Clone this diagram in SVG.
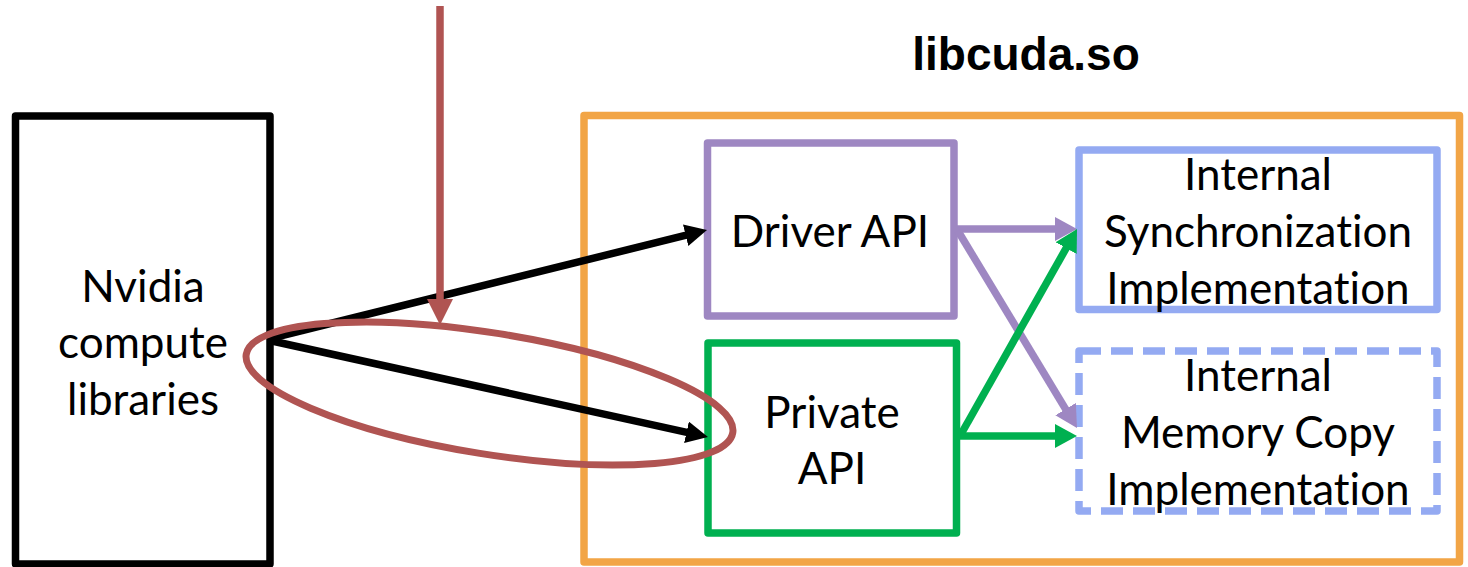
<svg xmlns="http://www.w3.org/2000/svg" width="1468" height="567" viewBox="0 0 1468 567">
  <style>
    .lbl { font-family: Lato, "Open Sans", "Liberation Sans", sans-serif; font-size: 44px; fill: #000; text-anchor: middle; font-variant-ligatures: none; font-feature-settings: "liga" 0, "clig" 0; }
    .title { font-family: "Liberation Sans", Arial, sans-serif; font-size: 46px; font-weight: bold; fill: #000; text-anchor: middle; }
    .box { fill: #fff; stroke-width: 7.5; stroke-linejoin: round; }
    .conn { fill: none; stroke-width: 7.5; }
  </style>
  <defs>
    <marker id="ah-black" markerUnits="userSpaceOnUse" markerWidth="24" markerHeight="22" refX="12" refY="11" orient="auto">
      <path d="M0,0 L22,11 L0,22 z" fill="#000"/>
    </marker>
    <marker id="ah-purple" markerUnits="userSpaceOnUse" markerWidth="24" markerHeight="24" refX="12" refY="12" orient="auto">
      <path d="M0,0 L22,12 L0,24 z" fill="#9e87c2"/>
    </marker>
    <marker id="ah-green" markerUnits="userSpaceOnUse" markerWidth="24" markerHeight="24" refX="12" refY="12" orient="auto">
      <path d="M0,0 L22,12 L0,24 z" fill="#00b050"/>
    </marker>
    <marker id="ah-red" markerUnits="userSpaceOnUse" markerWidth="28" markerHeight="28" refX="16" refY="13" orient="auto">
      <path d="M0,0 L26,13 L0,26 z" fill="#b05452"/>
    </marker>
  </defs>

  <rect width="1468" height="567" fill="#fff"/>

  <g id="libcuda">
    <text class="title" x="1026" y="70">libcuda.so</text>
    <rect x="584" y="115.5" width="875.5" height="446.5" fill="none" stroke="#f2a546" stroke-width="7.5" stroke-linejoin="round"/>
  </g>

  <g id="nvidia">
    <rect class="box" x="15.5" y="116" width="254.5" height="448" stroke="#000"/>
    <text class="lbl" x="143" y="302">Nvidia</text>
    <text class="lbl" x="143" y="358">compute</text>
    <text class="lbl" x="143" y="415">libraries</text>
  </g>

  <g id="driver-api">
    <rect class="box" x="707.5" y="143" width="246.5" height="173" stroke="#9e87c2"/>
    <text class="lbl" x="830" y="247">Driver API</text>
  </g>

  <g id="private-api">
    <rect class="box" x="708" y="343" width="248.5" height="190" stroke="#00b050"/>
    <text class="lbl" x="832" y="428">Private</text>
    <text class="lbl" x="832" y="484">API</text>
  </g>

  <g id="internal-sync">
    <rect class="box" x="1079" y="150" width="358" height="159.5" stroke="#94aaf2"/>
    <text class="lbl" x="1258" y="190">Internal</text>
    <text class="lbl" x="1258" y="247">Synchronization</text>
    <text class="lbl" x="1258" y="304">Implementation</text>
  </g>

  <g id="internal-memcpy">
    <rect class="box" x="1079" y="351" width="358" height="160" stroke="#94aaf2" stroke-dasharray="22 10"/>
    <text class="lbl" x="1258" y="391">Internal</text>
    <text class="lbl" x="1258" y="448">Memory Copy</text>
    <text class="lbl" x="1258" y="505">Implementation</text>
  </g>

  <g id="connectors">
    <path class="conn" d="M272,338 L697.3,232.4" stroke="#000" marker-end="url(#ah-black)"/>
    <path class="conn" d="M272,341 L698.2,434.9" stroke="#000" marker-end="url(#ah-black)"/>
    <path class="conn" d="M957,229 L1067,229" stroke="#9e87c2" marker-end="url(#ah-purple)"/>
    <path class="conn" d="M958,231 L1071.8,419.4" stroke="#9e87c2" marker-end="url(#ah-purple)"/>
    <path class="conn" d="M960,436 L1067,436" stroke="#00b050" marker-end="url(#ah-green)"/>
    <path class="conn" d="M960,436 L1072.1,237.7" stroke="#00b050" marker-end="url(#ah-green)"/>
    <path class="conn" d="M440,6 L440,315" stroke="#b05452" marker-end="url(#ah-red)"/>
    <ellipse cx="489.5" cy="393.5" rx="246.4" ry="60.6" transform="rotate(9.13 489.5 393.5)" fill="none" stroke="#b05452" stroke-width="7"/>
  </g>
</svg>
